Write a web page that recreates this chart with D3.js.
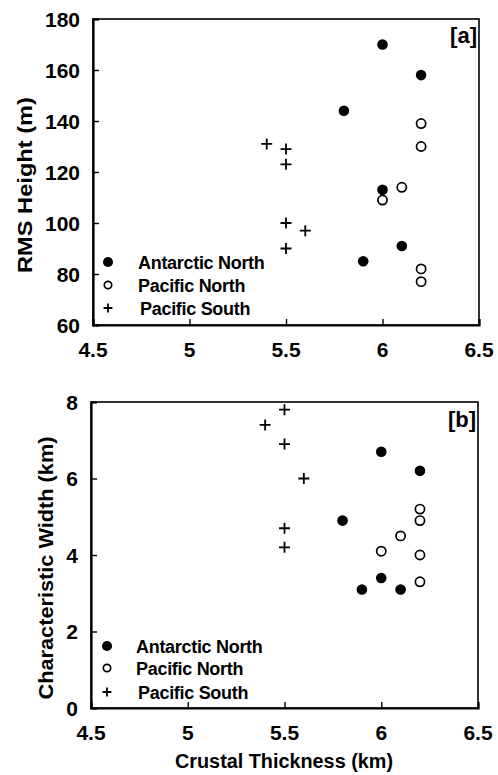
<!DOCTYPE html>
<html>
<head>
<meta charset="utf-8">
<script src="https://cdn.jsdelivr.net/npm/d3@7/dist/d3.min.js"></script>
<style>
  html, body { margin: 0; padding: 0; background: #fff; }
  svg { display: block; font-family: "Liberation Sans", Arial, Helvetica, sans-serif; }
</style>
</head>
<body>
<svg id="chart" width="498" height="775"></svg>
<script>
// ---------- data ----------
const seriesNames = ["Antarctic North", "Pacific North", "Pacific South"];
const xTicks = [4.5, 5, 5.5, 6, 6.5];
const xTickLabels = ["4.5", "5", "5.5", "6", "6.5"];
const rmsTicks = [60, 80, 100, 120, 140, 160, 180];
const widthTicks = [0, 2, 4, 6, 8];
const xTitle = "Crustal Thickness (km)";
const rmsTitle = "RMS Height (m)";
const widthTitle = "Characteristic Width (km)";

// panel [a] : RMS height
const antarcticNorthThicknessA = [6.0, 6.2, 5.8, 6.0, 6.1, 5.9];
const antarcticNorthRms = [170, 158, 144, 113, 91, 85];
const pacificNorthThicknessA = [6.2, 6.2, 6.1, 6.0, 6.2, 6.2];
const pacificNorthRms = [139, 130, 114, 109, 82, 77];
const pacificSouthThicknessA = [5.4, 5.5, 5.5, 5.5, 5.6, 5.5];
const pacificSouthRms = [131, 129, 123, 100, 97, 90];

// panel [b] : characteristic width
const antarcticNorthThicknessB = [6.0, 6.2, 5.8, 6.0, 5.9, 6.1];
const antarcticNorthWidth = [6.7, 6.2, 4.9, 3.4, 3.1, 3.1];
const pacificNorthThicknessB = [6.2, 6.2, 6.1, 6.0, 6.2, 6.2];
const pacificNorthWidth = [5.2, 4.9, 4.5, 4.1, 4.0, 3.3];
const pacificSouthThicknessB = [5.5, 5.4, 5.5, 5.6, 5.5, 5.5];
const pacificSouthWidth = [7.8, 7.4, 6.9, 6.0, 4.7, 4.2];

// ---------- drawing ----------
const svg = d3.select("#chart");

function zip(xs, ys) { return xs.map((x, i) => ({ x: x, y: ys[i] })); }

function drawMarker(g, type, cx, cy, s) {
  if (type === 0) {
    g.append("circle").attr("cx", cx).attr("cy", cy).attr("r", 5.3 * s).attr("fill", "#000");
  } else if (type === 1) {
    g.append("circle").attr("cx", cx).attr("cy", cy).attr("r", 4.6 * s)
      .attr("fill", "#fff").attr("stroke", "#000").attr("stroke-width", 1.7);
  } else {
    const a = 5.5 * s;
    g.append("path")
      .attr("d", `M${cx - a},${cy}H${cx + a}M${cx},${cy - a}V${cy + a}`)
      .attr("stroke", "#000").attr("stroke-width", 1.8).attr("fill", "none");
  }
}

function drawPanel(cfg) {
  const g = svg.append("g");
  const x = d3.scaleLinear().domain([4.5, 6.5]).range([cfg.left, cfg.right]);
  const y = d3.scaleLinear().domain(cfg.yDomain).range([cfg.bottom, cfg.top]);

  // frame
  g.append("rect").attr("x", cfg.left).attr("y", cfg.top)
    .attr("width", cfg.right - cfg.left).attr("height", cfg.bottom - cfg.top)
    .attr("fill", "none").attr("stroke", "#000").attr("stroke-width", 1.6);

  // left axis (ticks inward)
  const yAxis = d3.axisRight(y).tickValues(cfg.yTicks).tickSize(6).tickFormat("");
  g.append("g").attr("transform", `translate(${cfg.left},0)`).call(yAxis)
    .call(a => a.select(".domain").attr("stroke-width", 2.2))
    .call(a => a.selectAll(".tick line").attr("stroke-width", 1.4));
  // bottom axis (ticks inward)
  const xAxis = d3.axisTop(x).tickValues(xTicks).tickSize(6).tickFormat("");
  g.append("g").attr("transform", `translate(0,${cfg.bottom})`).call(xAxis)
    .call(a => a.select(".domain").attr("stroke-width", 2.2))
    .call(a => a.selectAll(".tick line").attr("stroke-width", 1.4));

  // tick labels
  g.selectAll(".ylab").data(cfg.yTicks).enter().append("text")
    .attr("x", cfg.left - 13).attr("y", d => y(d) + 7.5)
    .attr("text-anchor", "end").attr("font-size", 21).attr("font-weight", "bold")
    .text(d => String(d));
  g.selectAll(".xlab").data(xTicks).enter().append("text")
    .attr("x", d => x(d)).attr("y", cfg.bottom + 32)
    .attr("text-anchor", "middle").attr("font-size", 21).attr("font-weight", "bold")
    .text((d, i) => xTickLabels[i]);

  // y title
  g.append("text")
    .attr("transform", `translate(${cfg.yTitleX},${cfg.yTitleY}) rotate(-90)`)
    .attr("text-anchor", "middle").attr("font-size", 20).attr("font-weight", "bold")
    .attr("textLength", cfg.yTitleLen).attr("lengthAdjust", "spacingAndGlyphs")
    .text(cfg.yTitle);

  // panel label
  g.append("text").attr("x", cfg.right - 2).attr("y", cfg.top + cfg.labelDy)
    .attr("text-anchor", "end").attr("font-size", 22).attr("font-weight", "bold")
    .text(cfg.label);

  // data
  cfg.series.forEach((pts, t) => {
    pts.forEach(p => drawMarker(g, t, x(p.x), y(p.y), 1));
  });

  // legend
  seriesNames.forEach((name, i) => {
    const cy = cfg.legendY[i];
    drawMarker(g, i, cfg.legendMarkerX, cy, i === 0 ? 0.95 : 0.8);
    g.append("text").attr("x", cfg.legendTextX + (i === 2 ? 2 : 0)).attr("y", cy + 6.5)
      .attr("font-size", 18).attr("font-weight", "bold").attr("letter-spacing", -0.3)
      .text(name);
  });

  return { x, y };
}

drawPanel({
  left: 93, right: 479, top: 19, bottom: 325,
  yDomain: [60, 180], yTicks: rmsTicks,
  yTitle: rmsTitle, yTitleX: 31.5, yTitleY: 185, yTitleLen: 176,
  label: "[a]", labelDy: 24,
  series: [zip(antarcticNorthThicknessA, antarcticNorthRms),
           zip(pacificNorthThicknessA, pacificNorthRms),
           zip(pacificSouthThicknessA, pacificSouthRms)],
  legendMarkerX: 108, legendTextX: 138, legendY: [262, 285, 308]
});

drawPanel({
  left: 91, right: 478, top: 402, bottom: 708,
  yDomain: [0, 8], yTicks: widthTicks,
  yTitle: widthTitle, yTitleX: 53, yTitleY: 568, yTitleLen: 263,
  label: "[b]", labelDy: 25,
  series: [zip(antarcticNorthThicknessB, antarcticNorthWidth),
           zip(pacificNorthThicknessB, pacificNorthWidth),
           zip(pacificSouthThicknessB, pacificSouthWidth)],
  legendMarkerX: 107, legendTextX: 136, legendY: [646, 668, 692]
});

// x axis title
svg.append("text").attr("x", 284).attr("y", 768)
  .attr("text-anchor", "middle").attr("font-size", 20).attr("font-weight", "bold")
  .attr("textLength", 218).attr("lengthAdjust", "spacingAndGlyphs")
  .text(xTitle);
</script>
</body>
</html>
